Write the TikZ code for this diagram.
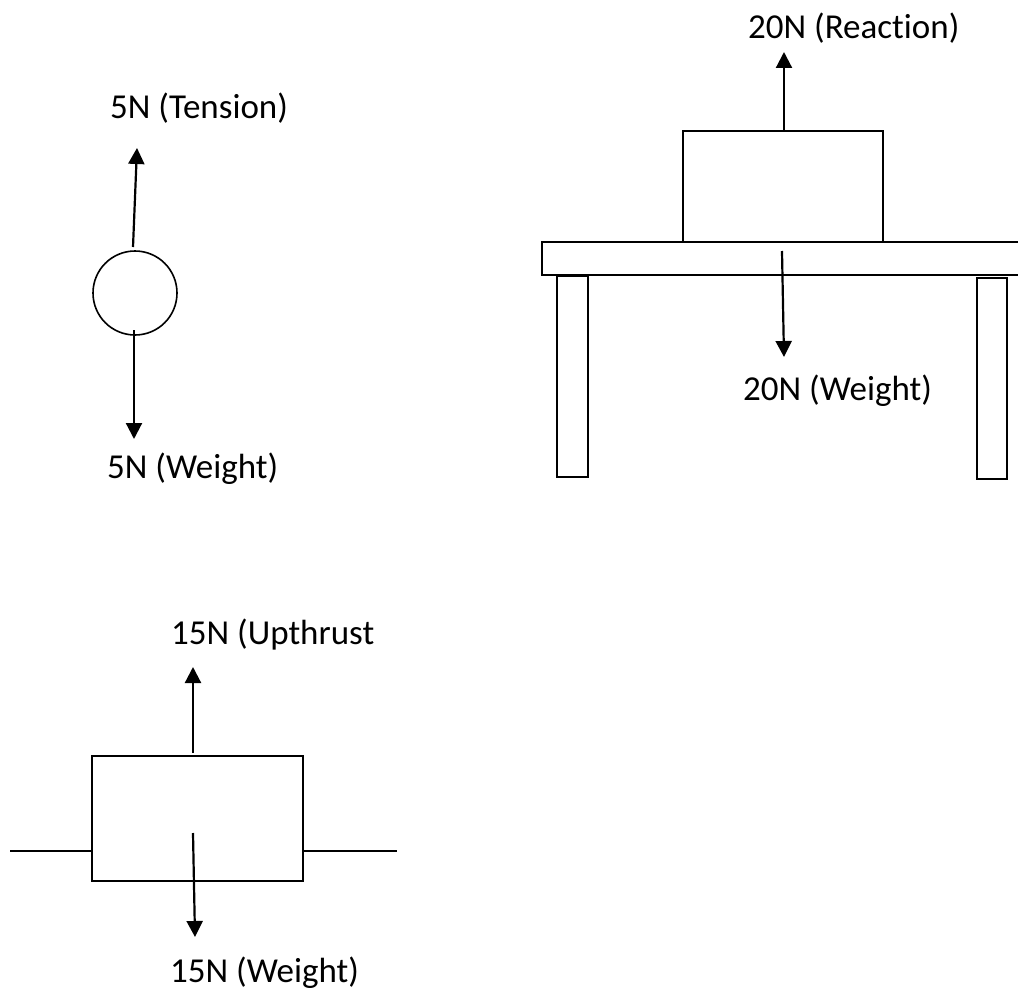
\documentclass[tikz,border=0pt]{standalone}
\usepackage{fontspec}
\setmainfont{Carlito}[Ligatures=NoCommon]
\usetikzlibrary{arrows.meta}
\begin{document}
\begin{tikzpicture}[x=1pt,y=-1pt,
  shape line/.style={draw=black,line width=1.6pt,fill=white,inner sep=0pt,outer sep=0pt},
  force/.style={line width=2.2pt,-{Triangle[length=16pt,width=16pt]}},
  lbl/.style={inner sep=0pt,font=\fontsize{35}{40}\selectfont}]
\useasboundingbox (0,0) rectangle (1018,990);
% --- ball with tension and weight
\node[shape line,circle,minimum size=84pt] (ball) at (135,293) {};
\coordinate (ballUp0) at (133,247);
\coordinate (ballUp1) at (137,148);
\coordinate (ballDn0) at (134,330);
\coordinate (ballDn1) at (134,439);
\draw[force] (ballUp0) -- (ballUp1);
\draw[force] (ballDn0) -- (ballDn1);
\node[lbl,anchor=west] (tension) at (110,108) {5N (Tension)};
\node[lbl,anchor=west] (w5) at (107,469) {5N (Weight)};
% --- table
\node[shape line,minimum width=31pt,minimum height=201pt,anchor=north west] (legL) at (557,276) {};
\node[shape line,minimum width=30pt,minimum height=201pt,anchor=north west] (legR) at (977,278) {};
\node[shape line,minimum width=480pt,minimum height=33pt,anchor=north west] (plank) at (542,242) {};
\node[shape line,minimum width=200pt,minimum height=111pt,anchor=north west] (box) at (683,131) {};
\coordinate (rUp0) at (784,130);
\coordinate (rUp1) at (784,52);
\coordinate (rDn0) at (782,251);
\coordinate (rDn1) at (784,357);
\draw[force] (rUp0) -- (rUp1);
\draw[force] (rDn0) -- (rDn1);
\node[lbl,anchor=west] (reaction) at (748,28) {20N (Reaction)};
\node[lbl,anchor=west] (w20) at (743,391) {20N (Weight)};
% --- floating block
\coordinate (wl0) at (10,851);
\coordinate (wr1) at (397,851);
\node[shape line,minimum width=211pt,minimum height=125pt,anchor=north west] (float) at (92,756) {};
\draw[line width=1.6pt] (wl0) -- (float.west |- wl0);
\draw[line width=1.6pt] (float.east |- wr1) -- (wr1);
\coordinate (uUp0) at (193,753);
\coordinate (uUp1) at (193,667);
\coordinate (uDn0) at (193,833);
\coordinate (uDn1) at (195,937);
\draw[force] (uUp0) -- (uUp1);
\draw[force] (uDn0) -- (uDn1);
\node[lbl,anchor=west] (upthrust) at (171,635) {15N (Upthrust};
\node[lbl,anchor=west] (w15) at (170,973) {15N (Weight)};
\end{tikzpicture}
\end{document}
